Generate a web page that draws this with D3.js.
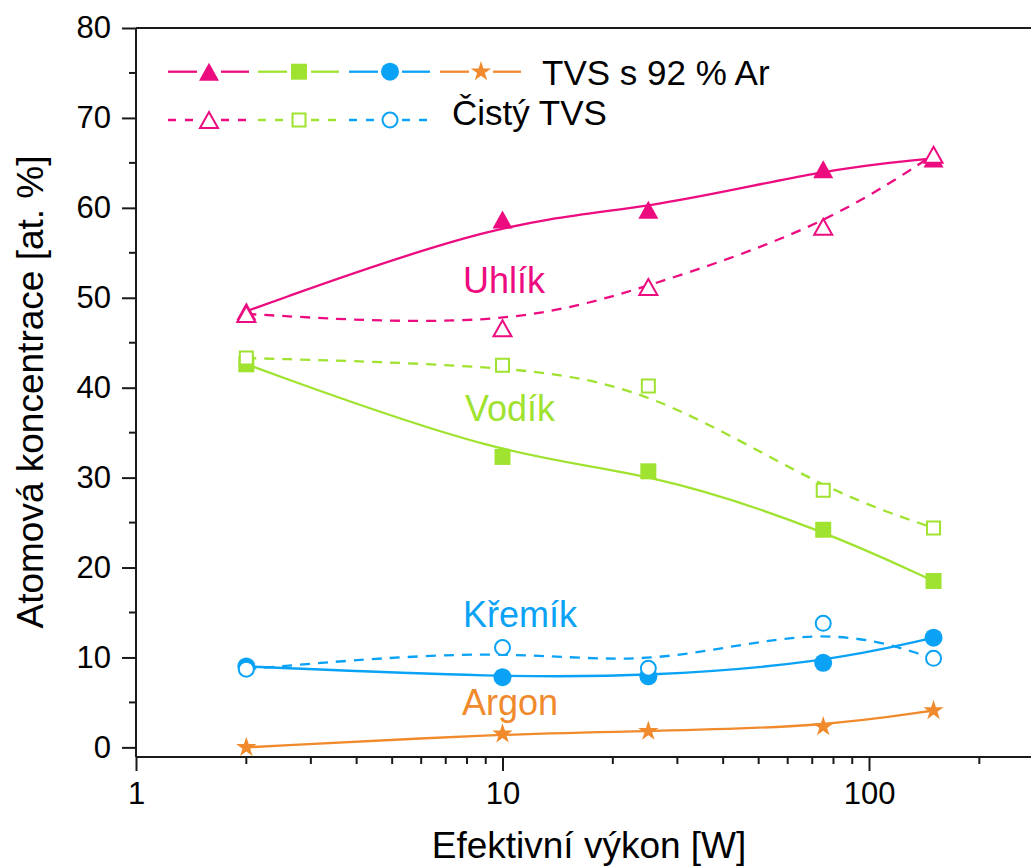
<!DOCTYPE html>
<html>
<head>
<meta charset="utf-8">
<script src="https://cdn.jsdelivr.net/npm/d3@7"></script>
<style>
  html, body { margin: 0; padding: 0; background: #fff; }
  svg { display: block; }
  text { font-family: "Liberation Sans", Arial, Helvetica, sans-serif; }
</style>
</head>
<body>
<svg id="chart" width="1031" height="866"></svg>
<script>
// ---- data ----
const powers = [2, 10, 25, 75, 150];
const carbonAr = [48.5, 58.7, 59.8, 64.3, 65.5];
const hydrogenAr = [42.6, 32.3, 30.7, 24.2, 18.5];
const siliconAr = [9.0, 7.8, 7.9, 9.4, 12.2];
const argonAr = [0.0, 1.5, 1.8, 2.3, 4.1];
const carbonPure = [48.2, 46.6, 51.2, 57.9, 65.9];
const hydrogenPure = [43.3, 42.5, 40.2, 28.6, 24.4];
const siliconPure = [8.7, 11.1, 8.8, 13.8, 9.9];

const yTickValues = [0, 10, 20, 30, 40, 50, 60, 70, 80];
const xMajorTicks = [1, 10, 100];
const xTickLabels = ["1", "10", "100"];
const legendLabels = ["TVS s 92 % Ar", "Čistý TVS"];
const elementNames = ["Uhlík", "Vodík", "Křemík", "Argon"];
const xTitle = "Efektivní výkon [W]";
const yTitle = "Atomová koncentrace [at. %]";

const colors = { C: "#ec0c80", H: "#9fe22f", Si: "#0aa2f5", Ar: "#f08a2c" };

// ---- scales ----
const svg = d3.select("#chart");
const pLeft = 136, pRight = 1031, pTop = 28, pBottom = 757;
const x = d3.scaleLog().domain([1, 276.7]).range([pLeft, pRight]);
const y = d3.scaleLinear().domain([-1.07, 80]).range([pBottom, pTop]);

// ---- axes ----
const axisColor = "#1a1a1a";
const gAx = svg.append("g");
gAx.append("line").attr("x1", pLeft).attr("x2", pRight).attr("y1", y(80)).attr("y2", y(80))
  .attr("stroke", axisColor).attr("stroke-width", 2);

const yAxis = d3.axisLeft(y).tickValues(yTickValues).tickSize(14).tickPadding(11).tickFormat(d3.format("d"));
const gy = svg.append("g").attr("transform", `translate(${pLeft},0)`).call(yAxis);
gy.select(".domain").attr("stroke", axisColor).attr("stroke-width", 2)
  .attr("d", `M0,${pTop}V${pBottom}`);
gy.selectAll(".tick line").attr("stroke", axisColor).attr("stroke-width", 2);
gy.selectAll(".tick text").attr("font-size", 31).attr("fill", "#000")
  .style("font-family", '"Liberation Sans", Arial, sans-serif');
const yMinor = d3.range(5, 80, 10);
svg.append("g").selectAll("line").data(yMinor).join("line")
  .attr("x1", pLeft - 7).attr("x2", pLeft).attr("y1", d => y(d)).attr("y2", d => y(d))
  .attr("stroke", axisColor).attr("stroke-width", 2);

const xAxis = d3.axisBottom(x).tickValues(xMajorTicks).tickSize(14).tickPadding(11)
  .tickFormat((d, i) => xTickLabels[i]);
const gx = svg.append("g").attr("transform", `translate(0,${pBottom})`).call(xAxis);
gx.select(".domain").attr("stroke", axisColor).attr("stroke-width", 2)
  .attr("d", `M${pLeft},0H${pRight}`);
gx.selectAll(".tick line").attr("stroke", axisColor).attr("stroke-width", 2);
gx.selectAll(".tick text").attr("font-size", 31).attr("fill", "#000")
  .style("font-family", '"Liberation Sans", Arial, sans-serif');
const xMinor = [];
[1, 10, 100].forEach(dec => { for (let k = 2; k <= 9; k++) { const v = dec * k; if (v <= 276) xMinor.push(v); } });
svg.append("g").selectAll("line").data(xMinor).join("line")
  .attr("x1", d => x(d)).attr("x2", d => x(d)).attr("y1", pBottom).attr("y2", pBottom + 7)
  .attr("stroke", axisColor).attr("stroke-width", 2);

svg.append("text").attr("x", 589).attr("y", 858).attr("text-anchor", "middle")
  .attr("font-size", 37).attr("fill", "#000").text(xTitle);
svg.append("text").attr("transform", `translate(43,392) rotate(-90)`).attr("text-anchor", "middle")
  .attr("font-size", 37).attr("fill", "#000").text(yTitle);

// ---- markers ----
function markerPath(type, filled) {
  if (type === "tri") {
    const w = filled ? 20 : 18, h = filled ? 18 : 16;
    return `M0,${-h / 2}L${w / 2},${h / 2}L${-w / 2},${h / 2}Z`;
  }
  if (type === "sq") {
    const s = filled ? 16 : 13;
    return `M${-s / 2},${-s / 2}h${s}v${s}h${-s}Z`;
  }
  if (type === "circ") {
    const r = filled ? 9 : 7.5;
    const p = d3.path(); p.arc(0, 0, r, 0, 2 * Math.PI); p.closePath(); return p.toString();
  }
  if (type === "star") {
    return d3.symbol().type(d3.symbolStar).size(128)();
  }
}
function drawMarker(g, type, filled, color, cx, cy) {
  g.append("path").attr("d", markerPath(type, filled))
    .attr("transform", `translate(${cx},${cy})`)
    .attr("fill", filled ? color : "#fff")
    .attr("stroke", filled ? "none" : color)
    .attr("stroke-width", filled ? 0 : 2);
}

const line = d3.line().x(d => x(d[0])).y(d => y(d[1])).curve(d3.curveBasis);
const seriesSolid = [
  { vals: carbonAr, color: colors.C, m: "tri" },
  { vals: hydrogenAr, color: colors.H, m: "sq" },
  { vals: siliconAr, color: colors.Si, m: "circ" },
  { vals: argonAr, color: colors.Ar, m: "star" }
];
const seriesDashed = [
  { vals: carbonPure, color: colors.C, m: "tri" },
  { vals: hydrogenPure, color: colors.H, m: "sq" },
  { vals: siliconPure, color: colors.Si, m: "circ" }
];

const plot = svg.append("g");
function drawSeries(s, filled) {
  const pts = powers.map((p, i) => [p, s.vals[i]]);
  plot.append("path").attr("d", line(pts)).attr("fill", "none").attr("stroke", s.color)
    .attr("stroke-width", 2.3).attr("stroke-dasharray", filled ? null : "10,8");
  pts.forEach(p => drawMarker(plot, s.m, filled, s.color, x(p[0]), y(p[1])));
}
seriesSolid.forEach(s => drawSeries(s, true));
seriesDashed.forEach(s => drawSeries(s, false));

// ---- element labels ----
const labelPos = [
  { t: elementNames[0], c: colors.C, x: 463, y: 293 },
  { t: elementNames[1], c: colors.H, x: 465, y: 421 },
  { t: elementNames[2], c: colors.Si, x: 463, y: 627 },
  { t: elementNames[3], c: colors.Ar, x: 462, y: 715 }
];
svg.append("g").selectAll("text").data(labelPos).join("text")
  .attr("x", d => d.x).attr("y", d => d.y).attr("fill", d => d.c)
  .attr("font-size", 36).text(d => d.t);

// ---- legend ----
const leg = svg.append("g");
const legCenters = [209, 299, 390, 481];
function legendRow(series, filled, yy, textX, textY, label) {
  series.forEach((s, i) => {
    const cx = legCenters[i];
    [[cx - 41, cx - 12], [cx + 12, cx + 40]].forEach(seg => {
      leg.append("line").attr("x1", seg[0]).attr("x2", seg[1]).attr("y1", yy).attr("y2", yy)
        .attr("stroke", s.color).attr("stroke-width", 2.3)
        .attr("stroke-dasharray", filled ? null : "8,9");
    });
    drawMarker(leg, s.m, filled, s.color, cx, yy);
  });
  leg.append("text").attr("x", textX).attr("y", textY).attr("font-size", 35).attr("fill", "#000").text(label);
}
legendRow(seriesSolid, true, 71.7, 542, 85, legendLabels[0]);
legendRow(seriesDashed, false, 120, 452, 125, legendLabels[1]);
</script>
</body>
</html>
